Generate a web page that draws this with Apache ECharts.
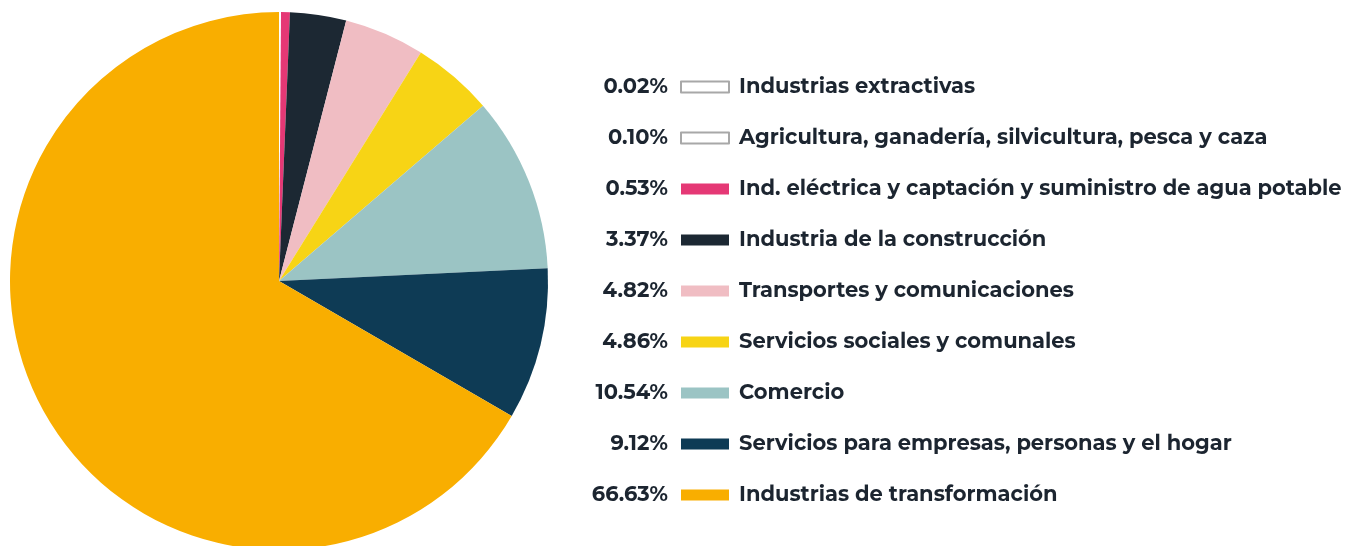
<!DOCTYPE html>
<html><head><meta charset="utf-8">
<script src="https://cdn.jsdelivr.net/npm/echarts@6/dist/echarts.min.js"></script>
<style>html,body{margin:0;padding:0;background:#fff}#c{width:1352px;height:546px}</style>
</head><body><div id="c"></div>
<script>
const categories = [
  'Industrias extractivas',
  'Agricultura, ganadería, silvicultura, pesca y caza',
  'Ind. eléctrica y captación y suministro de agua potable',
  'Industria de la construcción',
  'Transportes y comunicaciones',
  'Servicios sociales y comunales',
  'Comercio',
  'Servicios para empresas, personas y el hogar',
  'Industrias de transformación'
];
const values = [0.02, 0.10, 0.53, 3.37, 4.82, 4.86, 10.54, 9.12, 66.63];
const percentLabels = ['0.02%', '0.10%', '0.53%', '3.37%', '4.82%', '4.86%', '10.54%', '9.12%', '66.63%'];
const colors = ['#ffffff', '#ffffff', '#e53875', '#1c2833', '#f0bdc3', '#f7d415', '#9bc4c4', '#0e3b55', '#f9ae00'];

const font = 'Montserrat, Inter, "Noto Sans", sans-serif';
const rowTop = 87, rowStep = 51;

const chart = echarts.init(document.getElementById('c'), null, {renderer: 'canvas'});
chart.setOption({
  animation: false,
  color: colors,
  legend: {
    orient: 'vertical',
    left: 680,
    top: rowTop - 13,
    padding: 0,
    icon: 'rect',
    itemWidth: 48,
    itemHeight: 11,
    itemGap: rowStep - 26,
    selectedMode: false,
    textStyle: {fontFamily: font, fontWeight: 'bold', fontSize: 21, color: '#1c2530', lineHeight: 26, padding: [0, 0, 0, 5]},
    data: categories.map((n, i) => colors[i] === '#ffffff'
      ? {name: n, itemStyle: {color: '#ffffff', borderColor: '#a8a8a8', borderWidth: 2}}
      : {name: n})
  },
  graphic: percentLabels.map((t, i) => ({
    type: 'text',
    right: 1352 - 668,
    top: rowTop + rowStep * i - 13,
    style: {text: t, fontFamily: font, fontWeight: 'bold', fontSize: 21, fill: '#1c2530', textAlign: 'right', lineHeight: 26}
  })),
  series: [{
    type: 'pie',
    center: [279, 281],
    radius: 269,
    startAngle: 90,
    clockwise: true,
    silent: true,
    label: {show: false},
    labelLine: {show: false},
    itemStyle: {borderWidth: 0},
    data: categories.map((n, i) => ({name: n, value: values[i]}))
  }]
});
</script></body></html>
